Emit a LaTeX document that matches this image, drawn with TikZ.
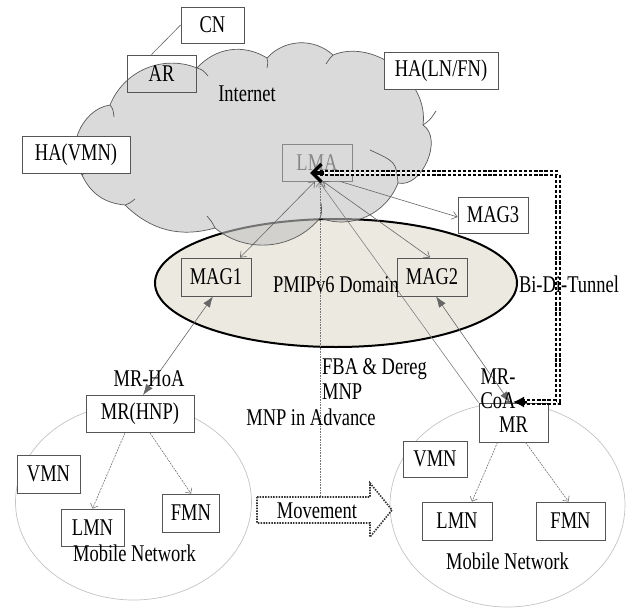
\documentclass[tikz,border=0pt]{standalone}
\usepackage{fontspec}
\setmainfont{Liberation Serif}[FakeStretch=0.77]
\usetikzlibrary{arrows.meta}
\definecolor{cloudgray}{RGB}{193,193,193}
\definecolor{beige}{RGB}{236,234,224}
\definecolor{edge}{RGB}{85,85,85}
\definecolor{lmagray}{RGB}{135,135,135}
\definecolor{netgray}{RGB}{195,195,195}
\begin{document}
\begin{tikzpicture}[x=1pt,y=-1pt,
  every node/.style={font=\fontsize{24}{26}\selectfont, inner sep=0pt},
  box/.style={draw=edge, line width=0.8pt, fill=white, minimum height=37pt},
  clearbox/.style={draw=edge, line width=0.8pt, minimum height=37pt},
  cloudline/.style={draw=black!65, line width=0.7pt},
  thin/.style={draw=black!60, line width=0.6pt},
  opentip/.style={-{Straight Barb[length=5pt,width=8pt]}},
  bothopen/.style={{Straight Barb[length=5pt,width=8pt]}-{Straight Barb[length=5pt,width=8pt]}},
  bothfilled/.style={{Latex[length=11pt,width=8pt]}-{Latex[length=11pt,width=8pt]}},
  netarrow/.style={draw=black!55, line width=0.6pt, dash pattern=on 2pt off 1pt, -{Straight Barb[length=4pt,width=8pt]}},
  tunnel/.style={draw=black, line width=1.8pt, double=white, double distance=1.6pt, dash pattern=on 3.3pt off 1.8pt},
  netellipse/.style={draw=netgray, line width=0.7pt}
]
\useasboundingbox (0,0) rectangle (627,608);

% mobile networks
\draw[netellipse] (133.5,502) ellipse [x radius=118, y radius=98];
\draw[netellipse] (507.5,505) ellipse [x radius=117.5, y radius=102];

% PMIPv6 domain
\draw[line width=2pt, fill=beige] (336,283) ellipse [x radius=181, y radius=64];

% cloud
\path[fill=cloudgray, fill opacity=0.6] (110,105) to[bend left=45] (197,68) to[bend left=40] (267,58) to[bend left=45] (333,55) to[bend left=60] (423,125) to[bend left=80] (398,183) to[bend left=45] (320,218) to[bend left=45] (215,228) to[bend left=30] (125,205) to[bend left=30] (82,175) to[bend left=60] cycle;
\draw[cloudline] (110,105) to[bend left=45] (197,68) to[bend left=40] (267,58) to[bend left=45] (333,55) to[bend left=60] (423,125) to[bend left=80] (398,183) to[bend left=45] (320,218) to[bend left=45] (215,228) to[bend left=30] (125,205) to[bend left=30] (82,175) to[bend left=60] cycle;
\draw[cloudline] (110,105) .. controls (113,109) .. (114,117);
\draw[cloudline] (197,68) .. controls (203,70) .. (208,76);
\draw[cloudline] (267,58) .. controls (268,62) .. (267,68);
\draw[cloudline] (333,55) .. controls (330,58) .. (326,64);
\draw[cloudline] (423,125) .. controls (430,120) .. (436,111);
\draw[cloudline] (398,183) .. controls (396,162) .. (370,150);
\draw[cloudline] (320,218) .. controls (322,212) .. (321,203);
\draw[cloudline] (215,228) .. controls (212,222) .. (207,216);
\draw[cloudline] (125,205) .. controls (130,203) .. (135,199);
\draw[cloudline] (82,175) .. controls (86,172) .. (90,172);

% boxes
\node[box, minimum width=63pt, minimum height=36pt] (CN) at (212.5,25) {CN};
\node[clearbox, minimum width=69pt] (AR) at (161.5,73.5) {AR};
\node[box, minimum width=114pt] (HALN) at (441,70.5) {HA(LN/FN)};
\node[box, minimum width=108pt] (HAVMN) at (76,154.5) {HA(VMN)};
\node[draw=lmagray, line width=0.8pt, minimum width=70pt, minimum height=37pt, text=lmagray] (LMA) at (317,162.5) {LMA};
\node[box, minimum width=70pt, minimum height=36pt] (MAG3) at (493,215) {MAG3};
\node[clearbox, minimum width=70pt, minimum height=38pt] (MAG1) at (216,277) {MAG1};
\node[clearbox, minimum width=70pt, minimum height=38pt] (MAG2) at (432,277) {MAG2};
\node[box, minimum width=108pt] (MRH) at (140,414) {MR(HNP)};
\node[box, minimum width=63pt, minimum height=38pt] (VMNl) at (48.5,474) {VMN};
\node[box, minimum width=63pt] (LMNl) at (92.5,527.5) {LMN};
\node[box, minimum width=57pt, minimum height=38pt] (FMNl) at (191,513) {FMN};
\node[box, minimum width=69pt, minimum height=39pt, text depth=0pt, inner sep=0pt] (MR) at (513.5,422.5) {\raisebox{-4pt}{MR}};
\node[box, minimum width=64pt, minimum height=36pt] (VMNr) at (435,459) {VMN};
\node[box, minimum width=70pt, minimum height=38pt] (LMNr) at (457,521) {LMN};
\node[box, minimum width=69pt, minimum height=38pt] (FMNr) at (570.5,521) {FMN};

% connectors
\draw[thin] ([xshift=-10]AR.north) -- (CN.west);
\draw[thin, bothopen] ([xshift=-2]LMA.south) -- ([xshift=24]MAG1.north);
\draw[thin, bothopen] ([xshift=6]LMA.south) -- ([xshift=-2]MAG2.north);
\draw[thin, opentip] ([xshift=23]LMA.south) -- ([yshift=-2]MAG3.west);
\coordinate (vbot) at (320,497);
\draw[draw=black!55, line width=0.6pt, densely dotted, opentip] (vbot) -- ([xshift=3]LMA.south);
\draw[draw=black!50, line width=0.6pt, opentip] (MR.north west) -- ([xshift=2]LMA.south);
\draw[thin, bothfilled] ([xshift=-3]MAG1.south) -- ([xshift=3]MRH.north);
\draw[thin, bothfilled] ([xshift=4]MAG2.south) -- ([xshift=-3.5]MR.north);

\draw[netarrow] ([xshift=-15]MRH.south) -- (LMNl.north);
\draw[netarrow] ([xshift=10]MRH.south) -- (FMNl.north);
\draw[netarrow] ([xshift=-16]MR.south) -- ([xshift=15]LMNr.north);
\draw[netarrow] ([xshift=12]MR.south) -- ([xshift=-2]FMNr.north);

% Bi-Di tunnel
\coordinate (tunA) at (310,173);
\coordinate (tunB) at (513,402);
\coordinate (tc1) at (558,173);
\coordinate (tc2) at (558,402);
\draw[tunnel] ([xshift=10]tunA) -- (tc1) -- (tc2) -- ([xshift=10]tunB);
\draw[line width=3.5pt, black, -{Straight Barb[length=9pt,width=18pt,line width=3.5pt]}] ([xshift=14]tunA) -- (tunA);
\draw[line width=1.5pt, black, -{Latex[length=11pt,width=11pt]}] ([xshift=14]tunB) -- (tunB);

% movement arrow
\draw[draw=black!80, line width=1.6pt, dash pattern=on 1.5pt off 1.2pt] (257,497) -- (370,497) -- (370,483) -- (392,510) -- (370,537) -- (370,523) -- (257,523) -- cycle;
\node (move) at (317,511) {Movement};

% labels
\node (internet) at (247,94) {Internet};
\node (pmip) at (336,285) {PMIPv6 Domain};
\node (mnl) at (134.5,553) {Mobile Network};
\node (mnr) at (507.5,561) {Mobile Network};
\node (hoa) at (149,379) {MR-HoA};
\node[anchor=west] (fba) at (322,369) {FBA \& Dereg};
\node[anchor=west] (mnp) at (322,392) {MNP};
\node (adv) at (311,417) {MNP in Advance};
\node (bidi) at (569,284) {Bi-Di-Tunnel};
\node (mrm) at (498,377) {MR-};
\node (coa) at (498,401) {CoA};
\end{tikzpicture}
\end{document}
